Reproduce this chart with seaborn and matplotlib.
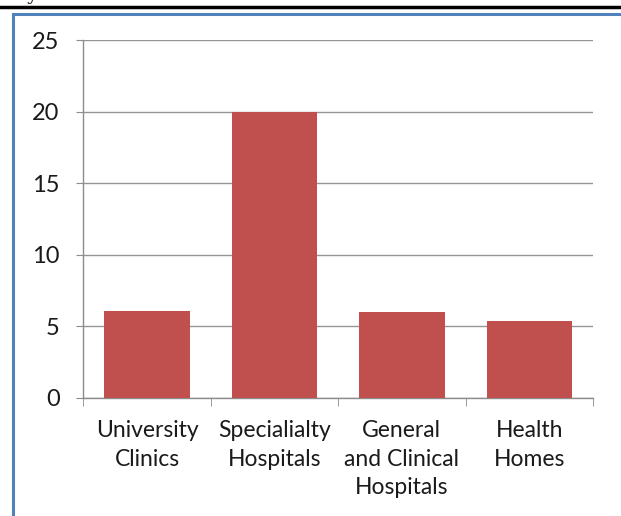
import matplotlib
matplotlib.use("Agg")
import matplotlib.pyplot as plt
import seaborn as sns
import pandas as pd
from matplotlib.patches import Rectangle
from matplotlib.lines import Line2D

categories = ["University\nClinics", "Specialialty\nHospitals", "General\nand Clinical\nHospitals", "Health\nHomes"]
values = [6.1, 20.0, 6.0, 5.4]
y_ticks = [0, 5, 10, 15, 20, 25]

df = pd.DataFrame({"type": categories, "days": values})

sns.set_style("white")
plt.rcParams["font.family"] = ["Lato", "DejaVu Sans"]

fig = plt.figure(figsize=(6.21, 5.16), dpi=100)
ax = fig.add_axes([0.134, 0.229, 0.821, 0.693])

sns.barplot(data=df, x="type", y="days", color="#C0504D", saturation=1,
            width=0.67, linewidth=0, ax=ax, zorder=3)

ax.set_ylim(0, 25)
ax.set_yticks(y_ticks)
ax.set_xlim(-0.5, len(categories) - 0.5)
ax.yaxis.grid(True, color="#959595", linewidth=1, zorder=0)
ax.set_axisbelow(True)
ax.set_xlabel("")
ax.set_ylabel("")

for s in ["top", "right"]:
    ax.spines[s].set_visible(False)
for s in ["left", "bottom"]:
    ax.spines[s].set_color("#8c8c8c")
    ax.spines[s].set_linewidth(1)

ax.tick_params(axis="y", length=5, color="#8c8c8c", labelsize=17, pad=12, left=True)
ax.tick_params(axis="x", which="major", length=0, labelsize=16.5, pad=16)
ax.set_xticks([i - 0.5 for i in range(len(categories) + 1)], minor=True)
ax.tick_params(axis="x", which="minor", length=6, color="#8c8c8c", bottom=True)
for lab in ax.get_yticklabels() + ax.get_xticklabels():
    lab.set_color("#1a1a1a")
for lab in ax.get_xticklabels():
    lab.set_linespacing(1.45)

# frame around chart and the cut-off heading above it
fig.patches.append(Rectangle((0.021, -0.01), 1.0, 0.983, transform=fig.transFigure,
                             fill=False, edgecolor="#4F81BD", linewidth=2.2))
fig.lines.append(Line2D([0, 1], [0.986, 0.986], transform=fig.transFigure,
                        color="black", linewidth=2.5))
fig.text(0.005, 0.992, "days", fontsize=14, family="DejaVu Serif", va="bottom")

fig.savefig("out.png", dpi=100)
